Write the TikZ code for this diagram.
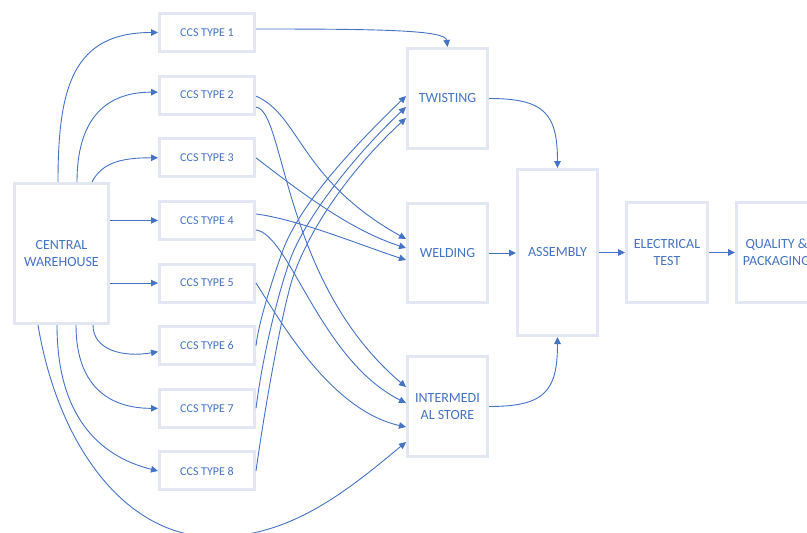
\documentclass[tikz,border=0pt]{standalone}
\usepackage{fontspec}
\setmainfont{Carlito}
\usetikzlibrary{arrows.meta}
\definecolor{officeblue}{HTML}{4472C4}
\definecolor{boxgrey}{HTML}{E3E7F3}

\begin{document}
\begin{tikzpicture}[x=1pt, y=-1pt,
    stage/.style={draw=boxgrey, line width=3pt, text=officeblue,
      font=\fontsize{14}{17.5}\selectfont, align=center, inner sep=0pt,
      minimum width=80pt, minimum height=100pt},
    ccsbox/.style={draw=boxgrey, line width=3pt, text=officeblue,
      font=\fontsize{12}{14}\selectfont, inner sep=0pt,
      minimum width=95pt, minimum height=38pt},
    flow/.style={draw=officeblue, line width=0.9pt,
      -{Triangle[length=7pt, width=6.5pt]}}]
  \useasboundingbox (0,0) rectangle (807,533);
  \clip (0,0) rectangle (807,533);
  \node[stage, minimum width=94pt, minimum height=140pt] (wh) at (61.5,253.5) {CENTRAL\\WAREHOUSE};
  \foreach \i in {1,...,8} {
    \pgfmathsetmacro\yc{32.5 + (\i-1)*62.64}
    \node[ccsbox] (ccs\i) at (207,\yc) {CCS TYPE \i};
  }
  \node[stage] (tw) at (447.5,98.5) {TWISTING};
  \node[stage, minimum height=99pt] (wd) at (447.5,253) {WELDING};
  \node[stage] (is) at (447.5,406.5) {INTERMEDI\\AL STORE};
  \node[stage, minimum height=166pt] (asm) at (557.5,252.5) {ASSEMBLY};
  \node[stage, minimum width=81pt] (et) at (667,252.5) {ELECTRICAL\\TEST};
  \node[stage] (qp) at (776.5,252.5) {QUALITY \&\\PACKAGING};

  \draw[flow] ([xshift=-3.5pt]wh.north) .. controls +(0,-95) and +(-85,0) .. (ccs1.west);
  \draw[flow] ([xshift=15.5pt]wh.north) .. controls +(0,-60) and +(-55,0) .. ([yshift=3pt]ccs2.west);
  \draw[flow] ([xshift=30.5pt]wh.north) .. controls +(10,-20) and +(-35,0) .. (ccs3.west);
  \draw[flow] (wh.east |- ccs4.west) -- (ccs4.west);
  \draw[flow] (wh.east |- ccs5.west) -- (ccs5.west);
  \draw[flow] ([xshift=31.5pt]wh.south) .. controls +(0,25) and +(-35,6) .. ([yshift=-6pt]ccs6.west);
  \draw[flow] ([xshift=14.5pt]wh.south) .. controls +(0,60) and +(-50,0) .. (ccs7.west);
  \draw[flow] ([xshift=-4.5pt]wh.south) .. controls +(0,90) and +(-60,-15) .. (ccs8.west);
  \draw[flow] ([xshift=-23.5pt]wh.south) .. controls +(20,120) and +(-90,0) .. (215,537)
    .. controls +(75,0) and +(-60,50) .. ([yshift=-35.5pt]is.west);

  \draw[flow] ([yshift=3.5pt]ccs1.east) .. controls +(124,0) and +(-2,-17) .. (tw.north);
  \draw[flow] ([yshift=-1pt]ccs2.east) .. controls +(44,19) and +(-106,-59) .. ([yshift=14pt]wd.west);
  \draw[flow] ([yshift=-12pt]ccs2.east) .. controls +(29,3) and +(-124,-105) .. ([yshift=19.5pt]is.west);
  \draw[flow] (ccs3.east) .. controls +(44,34) and +(-56,-18) .. ([yshift=5pt]wd.west);
  \draw[flow] ([yshift=6.5pt]ccs4.east) .. controls +(44,6) and +(-46,-15) .. ([yshift=-7pt]wd.west);
  \draw[flow] ([yshift=-9.5pt]ccs4.east) .. controls +(34,5) and +(-86,-43) .. ([yshift=3.5pt]is.west);
  \draw[flow] (ccs5.east) .. controls +(24,37) and +(-76,-17) .. ([yshift=-20.5pt]is.west);
  \draw[flow] (ccs6.east) .. controls +(3,-26) and +(-9,25) .. (283,250)
    .. controls +(17,-45) and +(-56,54) .. ([yshift=2.5pt]tw.west);
  \draw[flow] (ccs7.east) .. controls +(6,-48) and +(-14,40) .. (290,260)
    .. controls +(15,-42) and +(-51,48) .. ([yshift=-8.5pt]tw.west);
  \draw[flow] (ccs8.east) .. controls +(7,-51) and +(-12,40) .. (292,280)
    .. controls +(18,-55) and +(-51,47) .. ([yshift=-19.5pt]tw.west);

  \draw[flow] (tw.east) .. controls +(55,0) and +(0,-55) .. (asm.north);
  \draw[flow] (is.east) .. controls +(55,0) and +(0,55) .. (asm.south);
  \draw[flow] (wd.east) -- (wd.east -| asm.west);
  \draw[flow] (asm.east) -- (asm.east -| et.west);
  \draw[flow] (et.east) -- (et.east -| qp.west);
\end{tikzpicture}
\end{document}
